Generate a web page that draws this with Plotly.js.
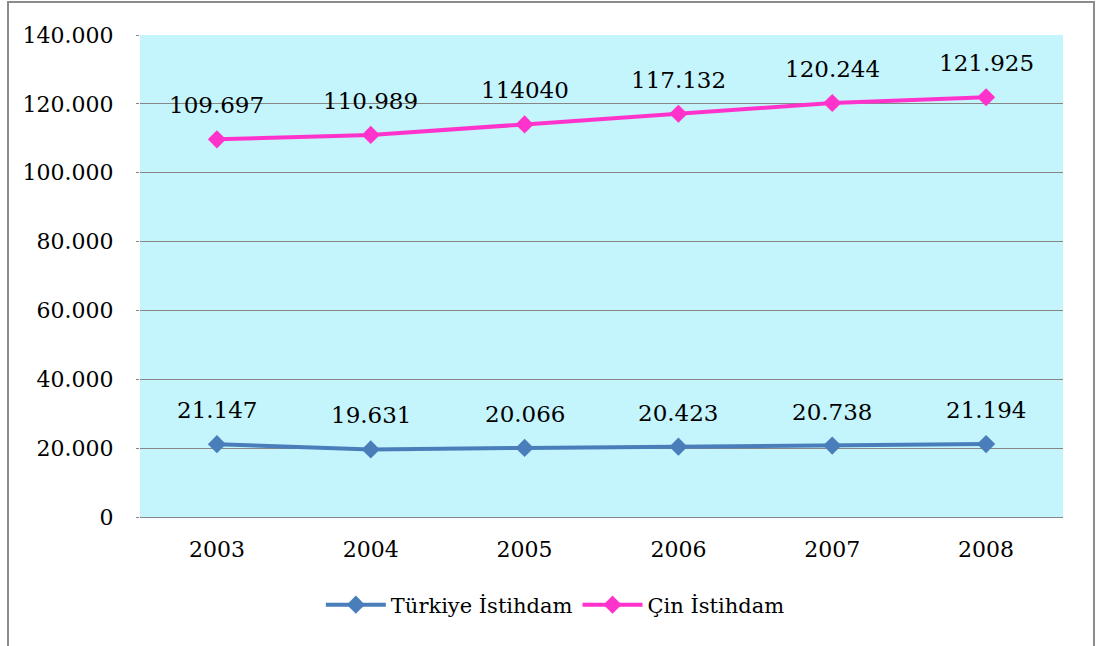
<!DOCTYPE html>
<html>
<head>
<meta charset="utf-8">
<script src="https://cdn.plot.ly/plotly-3.0.1.min.js"></script>
<style>
body{margin:0;padding:0;background:#fff;}
#wrap{position:relative;width:1099px;height:646px;}
#chart{position:absolute;left:0;top:0;width:1099px;height:646px;}
#frame{position:absolute;left:7px;top:1px;width:1084px;height:660px;border:2px solid #8c8c8c;pointer-events:none;}
</style>
</head>
<body>
<div id="wrap"><div id="chart"></div><div id="frame"></div></div>
<script>
const years = ['2003','2004','2005','2006','2007','2008'];
const turkiye = [21147, 19631, 20066, 20423, 20738, 21194];
const cin = [109697, 110989, 114040, 117132, 120244, 121925];
const turkiyeLabels = ['21.147','19.631','20.066','20.423','20.738','21.194'];
const cinLabels = ['109.697','110.989','114040','117.132','120.244','121.925'];
const yTickVals = [0,20000,40000,60000,80000,100000,120000,140000];
const yTickText = ['0','20.000','40.000','60.000','80.000','100.000','120.000','140.000'];

const serif = 'DejaVu Serif';
const traces = [
  {x: years, y: turkiye, name: 'Türkiye İstihdam', mode: 'lines+markers', type: 'scatter',
   line: {color: '#4A7EBB', width: 4}, marker: {symbol: 'diamond', size: 14, color: '#4A7EBB'}},
  {x: years, y: cin, name: 'Çin İstihdam', mode: 'lines+markers', type: 'scatter',
   line: {color: '#FF33CC', width: 4}, marker: {symbol: 'diamond', size: 14, color: '#FF33CC'}}
];
const annotations = [];
years.forEach((yr, i) => {
  annotations.push({xref: 'x', yref: 'y', x: i, y: turkiye[i], text: turkiyeLabels[i], showarrow: false, yshift: 34,
    font: {family: serif, size: 23, color: '#000'}});
  annotations.push({xref: 'x', yref: 'y', x: i, y: cin[i], text: cinLabels[i], showarrow: false, yshift: 34,
    font: {family: serif, size: 23, color: '#000'}});
});
const layout = {
  width: 1099, height: 646,
  margin: {l: 140, r: 36, t: 35, b: 129},
  paper_bgcolor: 'rgba(0,0,0,0)',
  plot_bgcolor: '#C4F4FC',
  showlegend: true,
  legend: {orientation: 'h', x: 0.45, xanchor: 'center', y: -0.14, yanchor: 'top',
    font: {family: serif, size: 21, color: '#000'}, itemwidth: 60, tracegroupgap: 0},
  xaxis: {type: 'category', range: [-0.5, 5.5], showgrid: false, showline: true, linecolor: '#868686',
    linewidth: 1, ticks: '', tickfont: {family: serif, size: 22, color: '#000'}, ticklabelstandoff: 13, fixedrange: true},
  yaxis: {range: [0, 140000], tickvals: yTickVals, ticktext: yTickText, showgrid: true, gridcolor: '#868686',
    gridwidth: 1, zeroline: false, showline: false, ticks: 'outside', ticklen: 3, tickcolor: '#868686',
    tickfont: {family: serif, size: 22, color: '#000'}, ticklabelstandoff: 18, fixedrange: true},
  annotations: annotations
};
Plotly.newPlot('chart', traces, layout, {displayModeBar: false, staticPlot: true});
</script>
</body>
</html>
